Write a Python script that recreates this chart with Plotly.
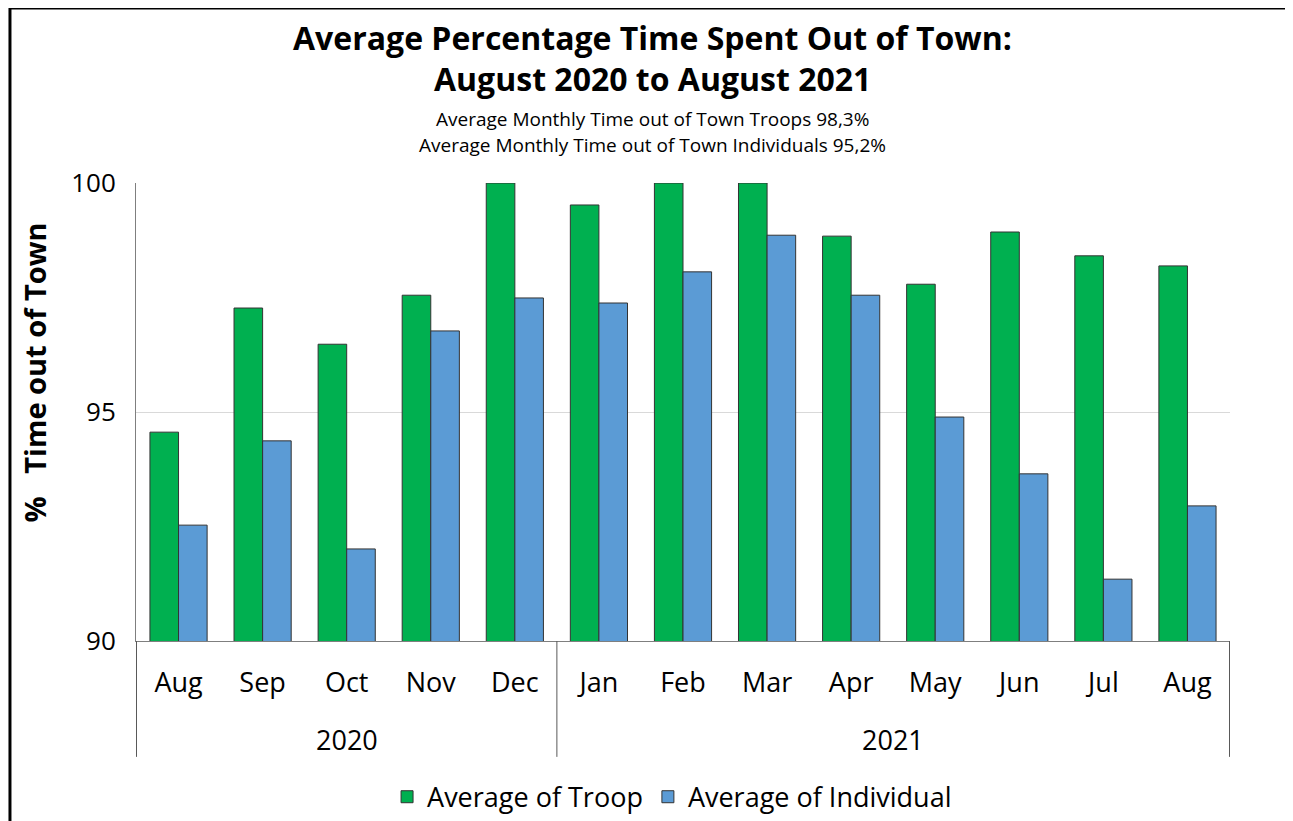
import plotly.graph_objects as go

# data
years = ["2020"] * 5 + ["2021"] * 8
months = ["Aug", "Sep", "Oct", "Nov", "Dec",
          "Jan", "Feb", "Mar", "Apr", "May", "Jun", "Jul", "Aug"]
troop = [94.56, 97.27, 96.48, 97.55, 100.0,
         99.52, 100.0, 100.0, 98.84, 97.79, 98.93, 98.41, 98.19]
individual = [92.53, 94.37, 92.01, 96.77, 97.49,
              97.38, 98.06, 98.86, 97.55, 94.89, 93.65, 91.35, 92.95]

FONT = "Open Sans"
keys = [f"{y} {m}" for y, m in zip(years, months)]

fig = go.Figure()
fig.add_trace(go.Bar(
    x=keys, y=troop, name="Average of Troop",
    marker=dict(color="#00B050", line=dict(color="#333333", width=1)),
))
fig.add_trace(go.Bar(
    x=keys, y=individual, name="Average of Individual",
    marker=dict(color="#5B9BD5", line=dict(color="#333333", width=1)),
))

# year group labels + divider lines under the month labels
year_names = ["2020", "2021"]
year_first = [0, years.index("2021")]
year_last = [years.index("2021") - 1, len(years) - 1]

annotations = [
    dict(text="<b>Average Percentage Time Spent Out of Town:</b>", xref="paper", yref="paper",
         x=0.472, y=1.317, xanchor="center", yanchor="middle", showarrow=False,
         font=dict(size=32)),
    dict(text="<b>August 2020 to August 2021</b>", xref="paper", yref="paper",
         x=0.472, y=1.229, xanchor="center", yanchor="middle", showarrow=False,
         font=dict(size=32)),
    dict(text="Average Monthly Time out of Town Troops 98,3%", xref="paper", yref="paper",
         x=0.472, y=1.140, xanchor="center", yanchor="middle", showarrow=False,
         font=dict(size=19)),
    dict(text="Average Monthly Time out of Town Individuals 95,2%", xref="paper", yref="paper",
         x=0.472, y=1.083, xanchor="center", yanchor="middle", showarrow=False,
         font=dict(size=19)),
    dict(text="<b>%   Time out of Town</b>", xref="paper", yref="paper",
         x=-0.093, y=0.587, xanchor="center", yanchor="middle", showarrow=False,
         textangle=-90, font=dict(size=29)),
]
for name, a, b in zip(year_names, year_first, year_last):
    annotations.append(dict(text=name, xref="x", yref="paper", x=(a + b) / 2, y=-0.216,
                            xanchor="center", yanchor="middle", showarrow=False,
                            font=dict(size=27)))

shapes = []
for xd in [-0.5, year_last[0] + 0.5, year_last[1] + 0.5]:
    shapes.append(dict(type="line", xref="x", yref="paper", x0=xd, x1=xd, y0=0, y1=-0.253,
                       line=dict(color="#595959", width=1)))
# outer frame of the picture
shapes += [
    dict(type="line", xref="paper", yref="paper", x0=-0.1152, x1=1.06, y0=1.382, y1=1.382,
         line=dict(color="black", width=3)),
    dict(type="line", xref="paper", yref="paper", x0=-0.1152, x1=-0.1152, y0=1.382, y1=-0.5,
         line=dict(color="black", width=3)),
    dict(type="line", xref="paper", yref="paper", x0=1.0557, x1=1.0557, y0=1.382, y1=-0.5,
         line=dict(color="#8C8C8C", width=2)),
]

fig.update_layout(
    width=1285, height=813,
    margin=dict(l=128, r=63, t=175, b=180, autoexpand=False),
    paper_bgcolor="white", plot_bgcolor="white",
    font=dict(family=FONT, color="black"),
    barmode="group", bargap=0.32, bargroupgap=0,
    showlegend=True,
    legend=dict(orientation="h", x=0.49, xanchor="center", y=-0.341, yanchor="middle",
                font=dict(size=27), traceorder="normal"),
    annotations=annotations,
    shapes=shapes,
)

fig.update_yaxes(
    range=[90, 100], tickvals=[90, 95, 100],
    showgrid=True, gridcolor="#D9D9D9", gridwidth=1,
    showline=True, linecolor="#7F7F7F", linewidth=1,
    tickfont=dict(size=26), ticks="", ticklabelstandoff=14,
    zeroline=False, automargin=False,
)
fig.update_xaxes(
    tickvals=keys, ticktext=months,
    showline=True, linecolor="#7F7F7F", linewidth=1,
    tickfont=dict(size=27), ticks="", ticklabelstandoff=18,
    automargin=False,
)

fig.write_html("out.html")
